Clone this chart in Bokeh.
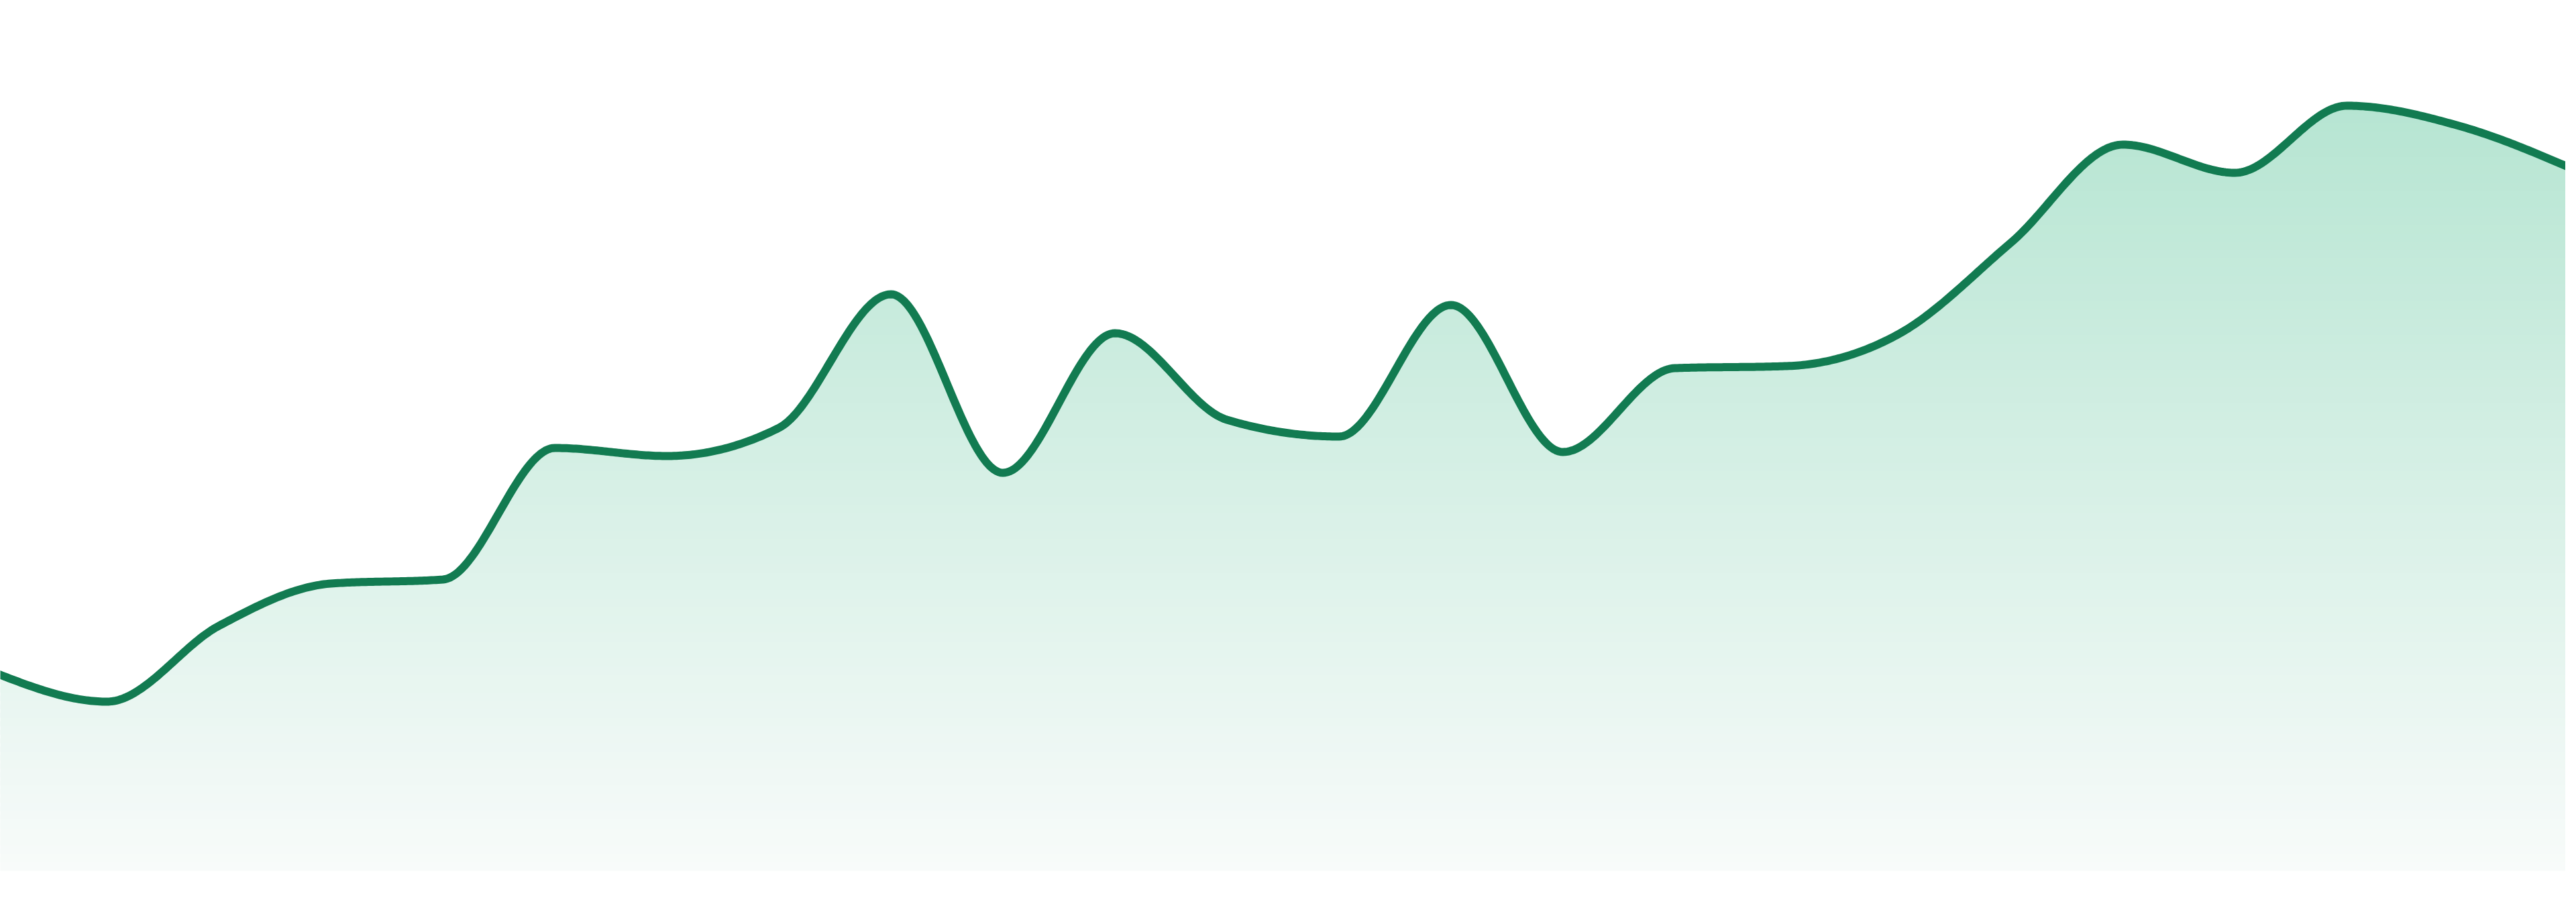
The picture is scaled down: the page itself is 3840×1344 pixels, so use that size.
import numpy as np
from bokeh.plotting import figure
from bokeh.models import Range1d
from bokeh.embed import file_html
from bokeh.resources import INLINE

# ---- data ----
periods = list(range(24))
values = [29.5, 25.2, 36.5, 42.8, 43.4, 63.0, 61.8, 66.0, 85.9, 59.3, 80.1, 67.2,
          64.7, 84.3, 62.4, 74.9, 75.2, 80.0, 93.6, 108.2, 104.0, 114.0, 111.0, 104.7]

LINE_COLOR = "#127b51"
GRAD_TOP = (182, 229, 210)
GRAD_BOTTOM = (248, 251, 250)


def monotone_tangents(x, y):
    """Tangents of d3.curveMonotoneX."""
    n = len(x)
    t = np.zeros(n)
    for i in range(1, n - 1):
        h0 = x[i] - x[i - 1]
        h1 = x[i + 1] - x[i]
        s0 = (y[i] - y[i - 1]) / h0
        s1 = (y[i + 1] - y[i]) / h1
        p = (s0 * h1 + s1 * h0) / (h0 + h1)
        t[i] = (np.sign(s0) + np.sign(s1)) * min(abs(s0), abs(s1), 0.5 * abs(p))
    h = x[1] - x[0]
    t[0] = (3 * (y[1] - y[0]) / h - t[1]) / 2
    h = x[-1] - x[-2]
    t[-1] = (3 * (y[-1] - y[-2]) / h - t[-2]) / 2
    return t


def smooth(x, y, per_seg=48):
    x = np.asarray(x, float)
    y = np.asarray(y, float)
    t = monotone_tangents(x, y)
    xs, ys = [], []
    for i in range(len(x) - 1):
        h = x[i + 1] - x[i]
        u = np.linspace(0, 1, per_seg, endpoint=(i == len(x) - 2))
        h00 = 2 * u**3 - 3 * u**2 + 1
        h10 = u**3 - 2 * u**2 + u
        h01 = -2 * u**3 + 3 * u**2
        h11 = u**3 - u**2
        xs.append(x[i] + u * h)
        ys.append(h00 * y[i] + h10 * h * t[i] + h01 * y[i + 1] + h11 * h * t[i + 1])
    return np.concatenate(xs), np.concatenate(ys)


sx, sy = smooth(periods, values)

unit_px = 3840 / (len(periods) - 1)
x0 = periods[0] + 8 / unit_px
x1 = periods[-1] - 8 / unit_px

p = figure(width=3824, height=1328, output_backend="svg", toolbar_location=None,
           x_range=Range1d(x0, x1), y_range=Range1d(-3.1, 129.7),
           x_axis_location=None, y_axis_location=None, min_border=0,
           background_fill_color="white", border_fill_color="white")
p.outline_line_color = None
p.xgrid.visible = False
p.ygrid.visible = False

# vertical gradient fill under the curve, built from horizontal bands
vmax = max(values)
n_bands = 90
edges = np.linspace(0, vmax, n_bands + 1)
for k in range(n_bands):
    lo, hi = edges[k], edges[k + 1]
    f = (0.5 * (lo + hi)) / vmax
    col = tuple(int(round(GRAD_BOTTOM[j] + (GRAD_TOP[j] - GRAD_BOTTOM[j]) * f)) for j in range(3))
    top = np.clip(sy, lo, hi + (hi - lo) * 0.6)
    top = np.minimum(top, np.maximum(sy, lo))
    p.varea(x=sx, y1=np.full_like(sx, lo), y2=top,
            fill_color="#%02x%02x%02x" % col, fill_alpha=1.0)

p.line(sx, sy, line_color=LINE_COLOR, line_width=12, line_join="round", line_cap="round")

open("out.html", "w").write(file_html(p, INLINE))
